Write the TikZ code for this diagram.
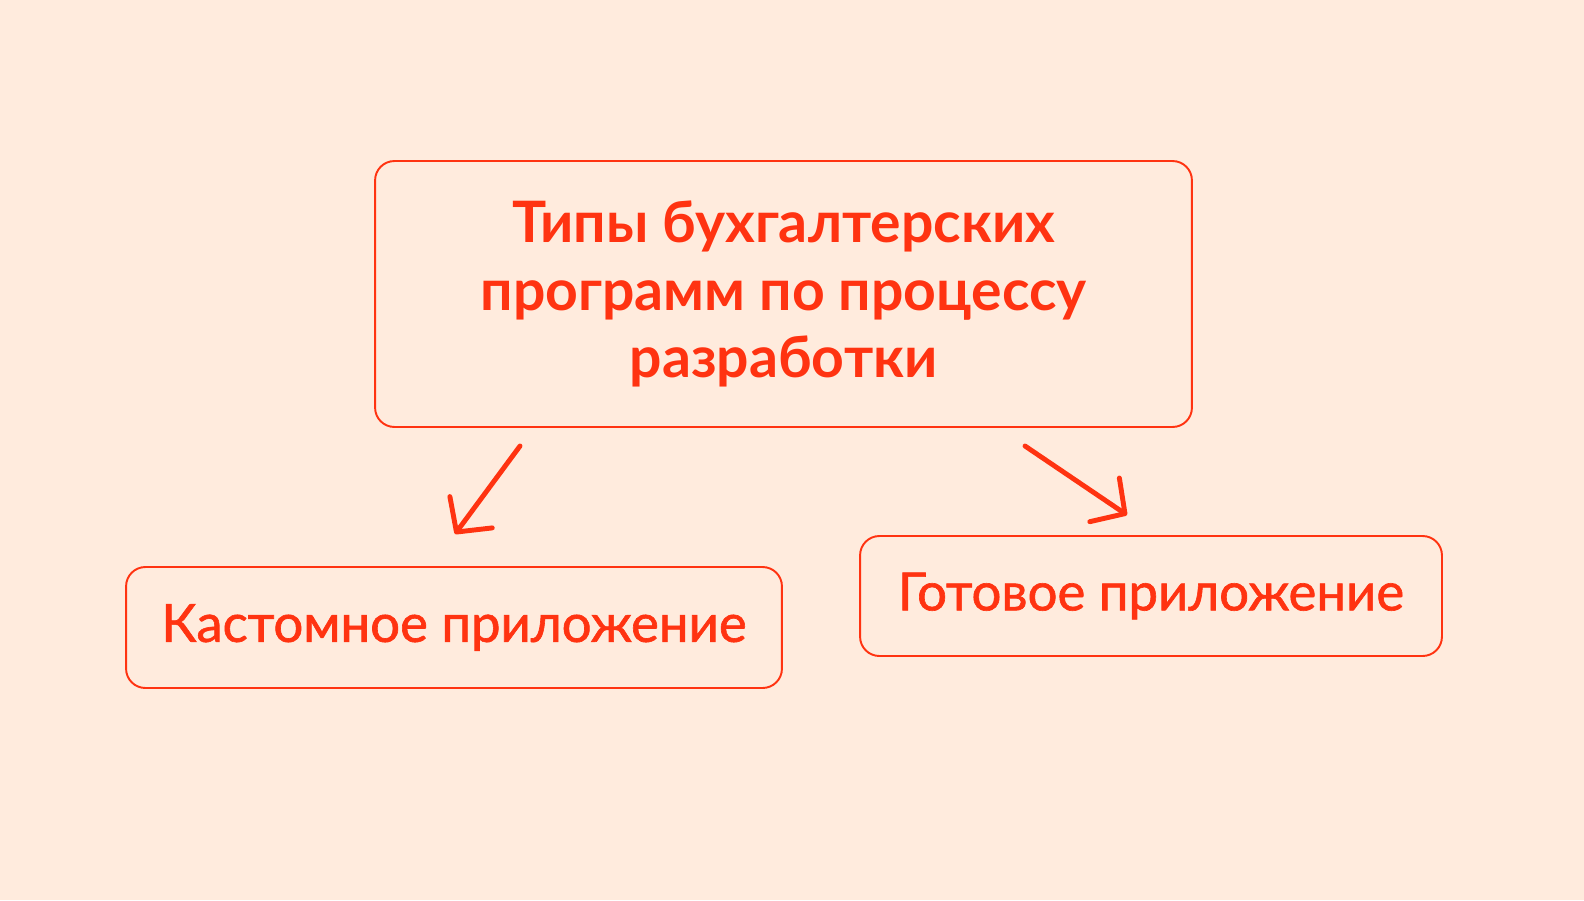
\documentclass[tikz,border=0pt]{standalone}
\usepackage{fontspec}
\setmainfont{Lato}
\newfontfamily\medfont{Lato}[FakeBold=1.2]
\usetikzlibrary{arrows.meta}
\definecolor{peach}{RGB}{255,235,221}
\definecolor{redline}{RGB}{255,51,17}
\tikzset{
  box/.style={draw=redline, line width=1.1pt, rounded corners=11pt, text=redline, align=center, inner sep=0pt},
  arrow/.style={draw=redline, line width=2.8pt, line cap=round, -{Straight Barb[length=14pt,width=30pt,round]}}
}
\begin{document}
\begin{tikzpicture}[x=0.02cm,y=-0.02cm]
      \fill[peach] (0,0) rectangle (1584,900);
      \draw
        (783.5,294) node[box, minimum width=16.34cm, minimum height=5.32cm,
          font=\fontsize{32.5}{38.6}\selectfont\bfseries] (0)
          {Типы бухгалтерских\\программ по процессу\\разработки}
        (454,627.5) node[box, minimum width=13.12cm, minimum height=2.42cm,
          font=\medfont\fontsize{30}{36}\selectfont] (1) {Кастомное приложение}
        (1151,596) node[box, minimum width=11.64cm, minimum height=2.4cm,
          font=\medfont\fontsize{30}{36}\selectfont] (2) {Готовое приложение};
      \coordinate (s1) at (520,446);
      \coordinate (e1) at (455,534);
      \coordinate (s2) at (1025,446);
      \coordinate (e2) at (1127,515);
      \begin{scope}[arrow]
        \draw (s1) to (e1);
        \draw (s2) to (e2);
      \end{scope}
    \end{tikzpicture}
\end{document}
